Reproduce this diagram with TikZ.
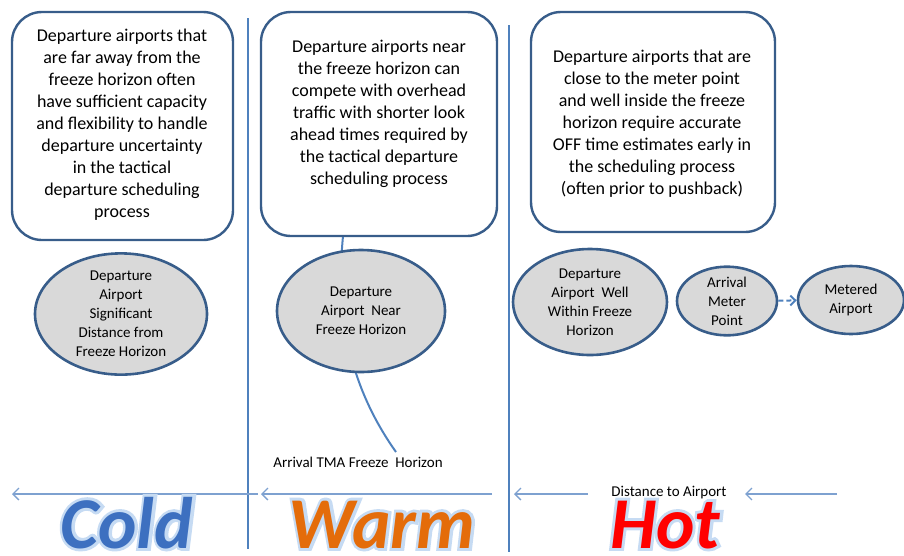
\documentclass[tikz,border=0pt]{standalone}
\usepackage{fontspec}
\setmainfont{Carlito}
\newfontfamily\zonehalo[FakeBold=8]{Carlito Bold Italic}
\newfontfamily\zonetype{Carlito Bold Italic}
\usetikzlibrary{arrows.meta,shapes.geometric,calc}

\definecolor{edge}{HTML}{385D8A}
\definecolor{rule}{HTML}{4F81BD}
\definecolor{axis}{HTML}{7EA1D0}
\definecolor{bubble}{HTML}{D9D9D9}
\definecolor{glow}{HTML}{C6DBF3}
\definecolor{coldc}{HTML}{3D70C0}
\definecolor{warmc}{HTML}{E46C0A}
\definecolor{hotc}{HTML}{FF0000}

% a word set large over a pale-blue halo (the halo is the same word, stroked wide)
\newcommand{\zoneword}[4]{%
  \node[text=glow, font=\zonehalo\fontsize{73}{73}\selectfont, inner sep=0pt, anchor=base] (#2halo) at (#1) {#3};
  \node[text=#4, font=\zonetype\fontsize{73}{73}\selectfont, inner sep=0pt, anchor=base] (#2) at (#1) {#3};
}

\begin{document}
\begin{tikzpicture}[x=1pt,y=-1pt,
  notebox/.style={draw=edge, line width=2.4pt, rounded corners=30pt, fill=white},
  notetext/.style={align=center, font=\fontsize{18}{22}\selectfont, text=black, inner sep=0pt},
  site/.style={ellipse, draw=edge, line width=2.6pt, fill=bubble, align=center,
               font=\fontsize{15}{19}\selectfont, inner sep=0pt},
  divider/.style={draw=rule, line width=2.4pt},
  axisarrow/.style={draw=axis, line width=1.3pt, -{Straight Barb[length=6pt,width=12pt,line width=1.3pt]}},
  caption/.style={font=\fontsize{15}{18}\selectfont, inner sep=0pt},
]
\useasboundingbox (0,0) rectangle (904,555);

% zone dividers
\coordinate (d1t) at (248,18);  \coordinate (d1b) at (248,549);
\coordinate (d2t) at (509,25);  \coordinate (d2b) at (509,552);
\draw[divider] (d1t) -- (d1b);
\draw[divider] (d2t) -- (d2b);

% freeze horizon arc, drawn first so the shapes sit on top of it
\coordinate (fh0) at (343,236);
\coordinate (fh1) at (396,452);
\draw[rule, line width=2pt] (fh0) .. controls (335,320) and (352,390) .. (fh1);
\node[caption, anchor=center] (fhlabel) at (358,462) {Arrival TMA Freeze\ \ Horizon};

% explanatory boxes
\node[notebox, minimum width=221pt, minimum height=228pt] (b1) at (122.5,126) {};
\node[notetext] (t1) at (122,125) {Departure airports that\\are far away from the\\freeze horizon often\\have sufficient capacity\\and flexibility to handle\\departure uncertainty\\in the tactical\\departure scheduling\\process};

\node[notebox, minimum width=236pt, minimum height=224pt] (b2) at (379,124) {};
\node[notetext] (t2) at (379,114) {Departure airports near\\the freeze horizon can\\compete with overhead\\traffic with shorter look\\ahead times required by\\the tactical departure\\scheduling process};

\node[notebox, minimum width=244pt, minimum height=220pt] (b3) at (653,122) {};
\node[notetext] (t3) at (652,124) {Departure airports that are\\close to the meter point\\and well inside the freeze\\horizon require accurate\\OFF time estimates early in\\the scheduling process\\(often prior to pushback)};

% airports
\node[site, minimum width=172pt, minimum height=118pt] (e1) at (121,314)
  {Departure\\Airport\\Significant\\Distance from\\Freeze Horizon};
\node[site, minimum width=168pt, minimum height=122pt] (e2) at (361,311)
  {Departure\\Airport\ \ Near\\Freeze Horizon};
\node[site, minimum width=154pt, minimum height=106pt] (e3) at (590,302)
  {Departure\\Airport\ \ Well\\Within Freeze\\Horizon};
\node[site, minimum width=100pt, minimum height=68pt] (e4) at (727,301)
  {Arrival\\Meter\\Point};
\node[site, minimum width=106pt, minimum height=68pt] (e5) at (851,300)
  {Metered\\Airport};
\draw[rule, line width=2pt, dash pattern=on 5pt off 3pt,
      -{Straight Barb[length=5pt,width=10pt,line width=2pt]}] (e4) -- (e5);

% distance axis
\coordinate (a1s) at (258,494); \coordinate (a1e) at (12,494);
\coordinate (a2s) at (492,494); \coordinate (a2e) at (261,494);
\coordinate (a3s) at (588,494); \coordinate (a3e) at (514,494);
\coordinate (a4s) at (837,494); \coordinate (a4e) at (745,494);
\draw[axisarrow] (a1s) -- (a1e);
\draw[axisarrow] (a2s) -- (a2e);
\draw[axisarrow] (a3s) -- (a3e);
\draw[axisarrow] (a4s) -- (a4e);
\node[caption] (dist) at (669,493) {Distance to Airport};

% zone names
\coordinate (pc) at (127,548);
\coordinate (pw) at (382,548);
\coordinate (ph) at (665,548);
\zoneword{pc}{cold}{Cold}{coldc}
\zoneword{pw}{warm}{Warm}{warmc}
\zoneword{ph}{hot}{Hot}{hotc}
\end{tikzpicture}
\end{document}
